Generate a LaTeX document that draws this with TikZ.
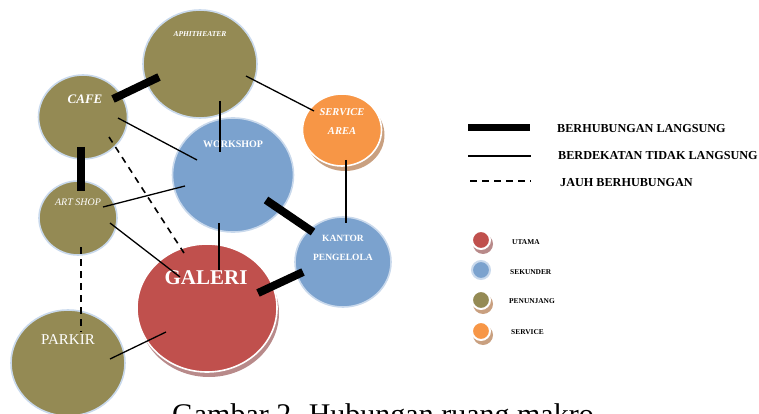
\documentclass[tikz,border=0pt]{standalone}
\usepackage{fontspec}
\setmainfont{Liberation Serif}
\usetikzlibrary{shapes.geometric}
\definecolor{olivefill}{HTML}{948A54}
\definecolor{sblue}{HTML}{7BA2CE}
\definecolor{sred}{HTML}{C0504D}
\definecolor{sorange}{HTML}{F79646}
\definecolor{rim}{HTML}{C9D9EC}
\definecolor{redshadow}{HTML}{B88A8A}
\definecolor{orshadow}{HTML}{C9A080}
\begin{document}
\begin{tikzpicture}[x=1pt,y=-1pt,
  room/.style={ellipse, draw=rim, line width=1.6pt, inner sep=0pt},
  shadowroom/.style={ellipse, inner sep=0pt},
  lbl/.style={text=white, font=\bfseries, inner sep=0pt},
  strong/.style={line width=8pt},
  near/.style={line width=1.3pt},
  far/.style={line width=1.6pt, dash pattern=on 6.5pt off 5.5pt},
  legtxt/.style={anchor=west, font=\bfseries, inner sep=0pt},
  dot/.style={circle, minimum size=18pt, inner sep=0pt, draw=white, line width=2pt}]
\useasboundingbox (0,0) rectangle (759,414);

% shadows
\node[shadowroom, fill=redshadow, minimum width=140pt, minimum height=128pt] (galerishadow) at (209,313) {};
\node[shadowroom, fill=orshadow, minimum width=79pt, minimum height=72pt] (serviceshadow) at (345,135) {};

% rooms
\node[room, fill=olivefill, minimum width=114pt, minimum height=108pt] (aphi) at (200,64) {};
\node[room, fill=olivefill, minimum width=89pt, minimum height=84pt] (cafe) at (83,117) {};
\node[room, fill=sblue, minimum width=121pt, minimum height=114pt] (workshop) at (233,175) {};
\node[room, fill=sorange, draw=white, minimum width=79pt, minimum height=72pt] (service) at (342,130) {};
\node[room, fill=olivefill, minimum width=78pt, minimum height=74pt] (artshop) at (78,218) {};
\node[room, fill=sblue, minimum width=96pt, minimum height=90pt] (kantor) at (343,262) {};
\node[room, fill=sred, draw=white, minimum width=140pt, minimum height=128pt] (galeri) at (207,308) {};
\node[room, fill=olivefill, minimum width=114pt, minimum height=106pt] (parkir) at (68,363) {};

% labels
\node[lbl, font=\bfseries\itshape\fontsize{7.5}{8}\selectfont] (laphi) at (200,34) {APHITHEATER};
\node[lbl, font=\bfseries\itshape\fontsize{13}{14}\selectfont] (lcafe) at (85,99) {CAFE};
\node[lbl, font=\bfseries\fontsize{10}{11}\selectfont] (lwork) at (233,144) {WORKSHOP};
\node[lbl, font=\bfseries\itshape\fontsize{10.5}{11}\selectfont] (lserv1) at (342,112) {SERVICE};
\node[lbl, font=\bfseries\itshape\fontsize{10.5}{11}\selectfont] (lserv2) at (342,131) {AREA};
\node[lbl, font=\itshape\fontsize{10}{11}\selectfont] (lart) at (78,202) {ART SHOP};
\node[lbl, font=\bfseries\fontsize{9.5}{10}\selectfont] (lkan1) at (343,238) {KANTOR};
\node[lbl, font=\bfseries\fontsize{9.5}{10}\selectfont] (lkan2) at (343,257) {PENGELOLA};
\node[lbl, font=\bfseries\fontsize{21}{22}\selectfont] (lgal) at (206,278) {GALERI};
\node[lbl, font=\fontsize{15}{16}\selectfont] (lpark) at (68,340) {PARKIR};

% connector end points
\coordinate (c1a) at (113,99);  \coordinate (c1b) at (159,77);
\coordinate (c2a) at (81,147);  \coordinate (c2b) at (81,191);
\coordinate (c3a) at (220,101); \coordinate (c3b) at (220,152);
\coordinate (c4a) at (246,76);  \coordinate (c4b) at (314,111);
\coordinate (c5a) at (118,118); \coordinate (c5b) at (197,160);
\coordinate (c6a) at (109,137); \coordinate (c6b) at (184,253);
\coordinate (c7a) at (103,207); \coordinate (c7b) at (185,186);
\coordinate (c8a) at (110,223); \coordinate (c8b) at (180,277);
\coordinate (c9a) at (219,223); \coordinate (c9b) at (219,270);
\coordinate (c10a) at (266,200); \coordinate (c10b) at (313,232);
\coordinate (c11a) at (346,160); \coordinate (c11b) at (346,223);
\coordinate (c12a) at (258,293); \coordinate (c12b) at (303,272);
\coordinate (c13a) at (81,247); \coordinate (c13b) at (81,332);
\coordinate (c14a) at (110,359); \coordinate (c14b) at (166,332);

\draw[strong] (c1a) -- (c1b);
\draw[strong] (c2a) -- (c2b);
\draw[near] (c3a) -- (c3b);
\draw[near] (c4a) -- (c4b);
\draw[near] (c5a) -- (c5b);
\draw[far] (c6a) -- (c6b);
\draw[near] (c7a) -- (c7b);
\draw[near] (c8a) -- (c8b);
\draw[near] (c9a) -- (c9b);
\draw[strong] (c10a) -- (c10b);
\draw[near] (c11a) -- (c11b);
\draw[strong] (c12a) -- (c12b);
\draw[far] (c13a) -- (c13b);
\draw[near] (c14a) -- (c14b);

% legend lines
\coordinate (l1a) at (468,128); \coordinate (l1b) at (530,128);
\coordinate (l2a) at (468,156); \coordinate (l2b) at (531,156);
\coordinate (l3a) at (470,181); \coordinate (l3b) at (531,181);
\draw[line width=7pt] (l1a) -- (l1b);
\draw[near] (l2a) -- (l2b);
\draw[far] (l3a) -- (l3b);
\node[legtxt, font=\bfseries\fontsize{12.2}{13}\selectfont] (t1) at (557,129) {BERHUBUNGAN LANGSUNG};
\node[legtxt, font=\bfseries\fontsize{12.2}{13}\selectfont] (t2) at (558,156) {BERDEKATAN TIDAK LANGSUNG};
\node[legtxt, font=\bfseries\fontsize{12.2}{13}\selectfont] (t3) at (560,183) {JAUH BERHUBUNGAN};

% legend dots
\node[circle, fill=redshadow, minimum size=20pt, inner sep=0pt] (d1s) at (483,244) {};
\node[dot, fill=sred] (d1) at (481,240) {};
\node[dot, fill=sblue, draw=rim] (d2) at (481,270) {};
\node[circle, fill=orshadow, minimum size=20pt, inner sep=0pt] (d3s) at (483,304) {};
\node[dot, fill=olivefill] (d3) at (481,300) {};
\node[circle, fill=orshadow, minimum size=20pt, inner sep=0pt] (d4s) at (483,335) {};
\node[dot, fill=sorange] (d4) at (481,331) {};
\node[legtxt, font=\bfseries\fontsize{7.4}{8}\selectfont] (u1) at (512,242) {UTAMA};
\node[legtxt, font=\bfseries\fontsize{7.4}{8}\selectfont] (u2) at (510,272) {SEKUNDER};
\node[legtxt, font=\bfseries\fontsize{7.4}{8}\selectfont] (u3) at (509,301) {PENUNJANG};
\node[legtxt, font=\bfseries\fontsize{7.4}{8}\selectfont] (u4) at (511,332) {SERVICE};

% caption (cut by the lower edge, as in the reference)
\node[anchor=north west, inner sep=0pt, font=\fontsize{30}{32}\selectfont] (cap) at (172,403) {Gambar 2. Hubungan ruang makro};
\end{tikzpicture}
\end{document}
